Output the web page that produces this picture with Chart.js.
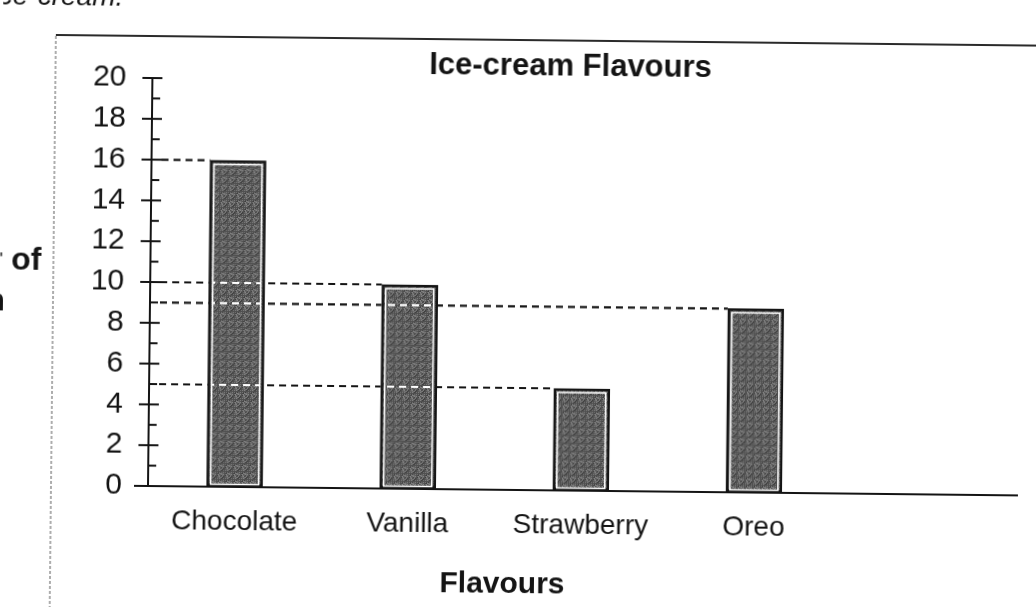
<!DOCTYPE html>
<html>
<head>
<meta charset="utf-8">
<script src="https://cdn.jsdelivr.net/npm/chart.js@4.4.1/dist/chart.umd.min.js"></script>
<style>
    html, body { margin: 0; padding: 0; background: #fff; overflow: hidden; }
    #wrap { width: 1036px; height: 607px; overflow: hidden; }
    /* the scan is turned a little clockwise */
    #myChart { display: block; transform: rotate(0.62deg); transform-origin: 518px 303px; }
</style>
</head>
<body>
<div id="wrap"><canvas id="myChart" width="1036" height="627"></canvas></div>
<script>
// data
const flavours = ['Chocolate', 'Vanilla', 'Strawberry', 'Oreo'];
const counts = [16, 10, 5, 9];
const yMin = 0;
const yMax = 20;
const yStep = 2;

const chartTitle = 'Ice-cream Flavours';
const xTitle = 'Flavours';
const yTitleLines = ['Number of', 'Ice-cream'];

const ink = '#141414';
const fontFamily = '"Liberation Sans", Arial, sans-serif';

// speckled grey fill, like the halftone in the scan (fixed texture, no randomness)
function makeSpeckle() {
    const size = 8;
    const c = document.createElement('canvas');
    c.width = size;
    c.height = size;
    const g = c.getContext('2d');
    for (let i = 0; i < size; i++) {
        for (let j = 0; j < size; j++) {
            const k = (i * 37 + j * 91 + i * j * 13) % 9;
            const s = 62 + k * 9;
            g.fillStyle = 'rgb(' + s + ',' + s + ',' + s + ')';
            g.fillRect(i, j, 1, 1);
        }
    }
    return g.createPattern(c, 'repeat');
}

// dashed line that goes white where it crosses a bar
function dashedRun(ctx, x0, x1, y, holes) {
    const pieces = [];
    let from = x0;
    holes.sort(function(a, b) { return a[0] - b[0]; }).forEach(function(h) {
        if (h[0] > from) pieces.push([from, h[0], ink]);
        pieces.push([h[0] + 4, h[1] - 4, '#fff']);
        from = h[1];
    });
    if (x1 > from) pieces.push([from, x1, ink]);
    pieces.forEach(function(p) {
        ctx.strokeStyle = p[2];
        ctx.lineDashOffset = p[0] - x0;
        ctx.beginPath();
        ctx.moveTo(p[0], y);
        ctx.lineTo(p[1], y);
        ctx.stroke();
    });
}

const decor = {
    id: 'decor',
    beforeDraw(chart) {
        const ctx = chart.ctx;
        ctx.save();
        ctx.fillStyle = '#fff';
        ctx.fillRect(-20, -20, chart.width + 40, chart.height + 40);

        // frame of the original chart box
        ctx.strokeStyle = '#2a2a2a';
        ctx.lineWidth = 2;
        ctx.beginPath();
        ctx.moveTo(53, 40);
        ctx.lineTo(chart.width + 10, 40);
        ctx.stroke();
        ctx.strokeStyle = '#777';
        ctx.lineWidth = 1.2;
        ctx.setLineDash([3, 2]);
        ctx.beginPath();
        ctx.moveTo(53, 41);
        ctx.lineTo(53, chart.height + 10);
        ctx.stroke();
        ctx.setLineDash([]);

        ctx.fillStyle = ink;
        // cut-off text from the page above
        ctx.font = 'italic 28px ' + fontFamily;
        ctx.textAlign = 'right';
        ctx.textBaseline = 'alphabetic';
        ctx.fillText('ice-cream.', 120, 10);

        // cut-off y title on the left
        ctx.font = 'bold 32px ' + fontFamily;
        ctx.fillText(yTitleLines[0], 41, 275);
        ctx.fillText(yTitleLines[1], 5, 316);

        // chart title and x title
        ctx.textAlign = 'center';
        ctx.font = 'bold 31px ' + fontFamily;
        ctx.fillText(chartTitle, 568, 75);
        ctx.font = 'bold 30px ' + fontFamily;
        ctx.fillText(xTitle, 505, 593);
        ctx.restore();
    },
    afterDatasetsDraw(chart) {
        const ctx = chart.ctx;
        const yScale = chart.scales.y;
        const axisX = chart.chartArea.left;
        const bars = chart.getDatasetMeta(0).data.map(function(b) {
            return b.getProps(['x', 'y', 'base', 'width'], true);
        });
        ctx.save();

        // white inner line on each bar
        ctx.strokeStyle = '#fff';
        ctx.lineWidth = 1.5;
        bars.forEach(function(b) {
            const l = b.x - b.width / 2 + 4;
            const r = b.x + b.width / 2 - 4;
            ctx.strokeRect(l, b.y + 4, r - l, b.base - b.y - 6);
        });

        // dashed guide from the axis to each bar top
        ctx.lineWidth = 2.2;
        ctx.setLineDash([7, 5]);
        bars.forEach(function(b, i) {
            const holes = [];
            for (let j = 0; j < i; j++) {
                if (counts[j] > counts[i]) {
                    holes.push([bars[j].x - bars[j].width / 2, bars[j].x + bars[j].width / 2]);
                }
            }
            dashedRun(ctx, axisX + 10, b.x - b.width / 2, b.y, holes);
        });
        ctx.setLineDash([]);
        ctx.lineDashOffset = 0;

        // tick marks crossing the y axis, minor ticks on the right
        ctx.strokeStyle = ink;
        ctx.lineWidth = 2;
        for (let v = yMin; v <= yMax; v++) {
            const py = yScale.getPixelForValue(v);
            ctx.beginPath();
            if (v % yStep === 0) {
                ctx.moveTo(axisX - 10, py);
                ctx.lineTo(axisX + 10, py);
            } else {
                ctx.moveTo(axisX, py);
                ctx.lineTo(axisX + 8, py);
            }
            ctx.stroke();
        }
        // x axis pokes out left of the y axis
        const zeroY = yScale.getPixelForValue(0);
        ctx.beginPath();
        ctx.moveTo(axisX - 14, zeroY);
        ctx.lineTo(axisX, zeroY);
        ctx.stroke();
        ctx.restore();
    }
};

const ctx = document.getElementById('myChart').getContext('2d');

const config = {
    type: 'bar',
    data: {
        datasets: [{
            label: xTitle,
            data: flavours.map(function(f, i) { return { x: i, y: counts[i] }; }),
            backgroundColor: makeSpeckle(),
            borderColor: ink,
            borderWidth: 2.5,
            borderSkipped: false,
            barThickness: 56,
        }],
    },
    options: {
        responsive: false,
        animation: false,
        layout: {
            padding: { top: 82, right: 17, left: 0, bottom: 0 },
        },
        plugins: {
            legend: { display: false },
            title: { display: false },
            tooltip: { enabled: false },
        },
        scales: {
            x: {
                type: 'linear',
                offset: false,
                min: -0.5,
                max: 4.52,
                afterBuildTicks: function(scale) {
                    scale.ticks = flavours.map(function(f, i) { return { value: i }; });
                },
                afterFit: function(scale) {
                    scale.height = 137;
                },
                grid: { display: false, drawTicks: false },
                border: { display: true, color: ink, width: 2 },
                ticks: {
                    autoSkip: false,
                    maxRotation: 0,
                    padding: 18,
                    color: ink,
                    font: { size: 28, family: fontFamily },
                    callback: function(value) {
                        return flavours[value] !== undefined ? flavours[value] : '';
                    },
                },
            },
            y: {
                min: yMin,
                max: yMax,
                afterFit: function(scale) {
                    scale.width = 150;
                },
                grid: { drawOnChartArea: false, drawTicks: false },
                border: { display: true, color: ink, width: 2 },
                ticks: {
                    stepSize: yStep,
                    padding: 26,
                    color: ink,
                    font: { size: 30, family: fontFamily },
                },
            },
        },
    },
    plugins: [decor],
};

const myChart = new Chart(ctx, config);
</script>
</body>
</html>
